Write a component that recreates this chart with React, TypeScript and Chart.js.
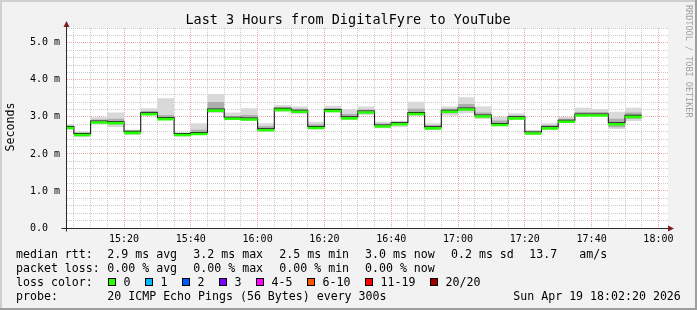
import { useEffect, useRef } from "react";
import { Chart, registerables } from "chart.js";

Chart.register(...registerables);

const MONO = '"DejaVu Sans Mono", monospace';

const chartTitle = "Last 3 Hours from DigitalFyre to YouTube";
const yAxisTitle = "Seconds";
const watermark = "RRDTOOL / TOBI OETIKER";

// time window of the graph
const axisStart = "15:02:56";
const axisEnd = "18:02:52";

// 5-minute RRD steps (start of each step), data ends at dataEnd
const segmentStarts = [
  "15:02:56", "15:05", "15:10", "15:15", "15:20", "15:25", "15:30", "15:35", "15:40", "15:45", "15:50", "15:55",
  "16:00", "16:05", "16:10", "16:15", "16:20", "16:25", "16:30", "16:35", "16:40", "16:45", "16:50", "16:55",
  "17:00", "17:05", "17:10", "17:15", "17:20", "17:25", "17:30", "17:35", "17:40", "17:45", "17:50",
];
const dataEnd = "17:55";

// median round-trip time, ms
const medianMs = [
  2.74, 2.55, 2.89, 2.87, 2.61, 3.11, 2.98, 2.55, 2.58, 3.21, 2.99, 2.97,
  2.68, 3.23, 3.18, 2.74, 3.20, 3.00, 3.16, 2.78, 2.84, 3.12, 2.73, 3.18,
  3.24, 3.05, 2.82, 3.00, 2.59, 2.73, 2.91, 3.08, 3.08, 2.84, 3.04,
];
// smoke: full spread of the pings, ms
const smokeLowMs = [
  2.65, 2.46, 2.80, 2.73, 2.51, 3.05, 2.94, 2.47, 2.51, 3.10, 2.92, 2.89,
  2.60, 3.14, 3.07, 2.69, 3.12, 2.94, 3.05, 2.69, 2.73, 3.03, 2.65, 3.03,
  3.10, 2.94, 2.76, 2.92, 2.51, 2.67, 2.85, 3.00, 3.00, 2.67, 2.89,
];
const smokeHighMs = [
  2.80, 2.60, 2.99, 3.12, 2.65, 3.23, 3.50, 2.58, 2.83, 3.62, 3.12, 3.23,
  2.83, 3.32, 3.28, 2.87, 3.30, 3.21, 3.28, 2.87, 2.89, 3.41, 2.83, 3.28,
  3.53, 3.28, 3.00, 3.10, 2.65, 2.83, 3.00, 3.25, 3.21, 3.14, 3.25,
];
// smoke: denser core around the median, ms
const coreLowMs = [
  2.70, 2.50, 2.84, 2.80, 2.55, 3.08, 2.96, 2.50, 2.54, 3.15, 2.95, 2.93,
  2.64, 3.18, 3.12, 2.71, 3.16, 2.96, 3.10, 2.73, 2.78, 3.07, 2.68, 3.10,
  3.18, 2.99, 2.78, 2.96, 2.55, 2.70, 2.88, 3.03, 3.03, 2.72, 2.95,
];
const coreHighMs = [
  2.77, 2.58, 2.93, 2.95, 2.63, 3.16, 3.05, 2.57, 2.65, 3.40, 3.02, 3.05,
  2.75, 3.26, 3.22, 2.80, 3.24, 3.08, 3.20, 2.82, 2.87, 3.22, 2.78, 3.22,
  3.35, 3.12, 2.90, 3.04, 2.62, 2.78, 2.95, 3.13, 3.13, 2.95, 3.12,
];

const xTickLabels = ["15:20", "15:40", "16:00", "16:20", "16:40", "17:00", "17:20", "17:40", "18:00"];
const yTickLabels = ["0.0  ", "1.0 m", "2.0 m", "3.0 m", "4.0 m", "5.0 m"];
const yMax = 5.4;

const lossLabels = ["0", "1", "2", "3", "4-5", "6-10", "11-19", "20/20"];
const lossColors = ["#26ff00", "#00b8ff", "#0059ff", "#7e00ff", "#ff00ff", "#ff5500", "#ff0000", "#a10000"];

const legendRow1 = ["median rtt:", "2.9 ms avg", "3.2 ms max", "2.5 ms min", "3.0 ms now", "0.2 ms sd", "13.7", "am/s"];
const legendRow2 = ["packet loss:", "0.00 % avg", "0.00 % max", "0.00 % min", "0.00 % now"];
const legendRow3 = ["loss color:"];
const legendRow4 = ["probe:", "20 ICMP Echo Pings (56 Bytes) every 300s", "Sun Apr 19 18:02:20 2026"];

// layout (pixels)
const row1X = [16, 107.3, 193.3, 279.3, 365, 451, 529.3, 579.3];
const row2X = [16, 107.3, 193.3, 279.3, 365];
const row4X = [16, 107.3, 513.3];
const lossBoxX = [108.5, 145.5, 182.5, 219.5, 256.5, 307.5, 365.5, 430.5];
const rowBaselines = [257.5, 271.5, 285.5, 299.5];

function toMin(t: string): number {
  const [h, m, s = "0"] = t.split(":");
  return Number(h) * 60 + Number(m) + Number(s) / 60;
}

const xMin = toMin(axisStart);
const xMax = toMin(axisEnd);
const starts = segmentStarts.map(toMin);
const ends = starts.slice(1).concat([toMin(dataEnd)]);
const xMajor = xTickLabels.map(toMin);

function stepped(values: number[]) {
  return starts.map((x, i) => ({ x, y: values[i] })).concat([{ x: toMin(dataEnd), y: values[values.length - 1] }]);
}

function flatSegments(values: number[]) {
  const pts: { x: number; y: number | null }[] = [];
  starts.forEach((x, i) => {
    pts.push({ x, y: values[i] }, { x: ends[i], y: values[i] }, { x: ends[i], y: null });
  });
  return pts;
}

const rrdPlugin = {
  id: "rrdLook",
  beforeDraw(chart: any) {
    const { ctx, width, height, chartArea } = chart;
    ctx.save();
    ctx.fillStyle = "#f2f2f2";
    ctx.fillRect(0, 0, width, height);
    // shade frame
    ctx.fillStyle = "#cfcfcf";
    ctx.fillRect(0, 0, width, 2);
    ctx.fillRect(0, 0, 2, height);
    ctx.fillStyle = "#9e9e9e";
    ctx.fillRect(0, height - 2, width, 2);
    ctx.fillRect(width - 2, 0, 2, height);
    ctx.fillStyle = "#ffffff";
    ctx.fillRect(chartArea.left, chartArea.top, chartArea.right - chartArea.left, chartArea.bottom - chartArea.top);
    ctx.restore();
  },
  beforeDatasetDraw(chart: any, args: any) {
    if (args.index === 0) {
      chart.ctx.save();
      chart.ctx.translate(0, 1.5);
    }
  },
  afterDatasetDraw(chart: any, args: any) {
    if (args.index === 0) chart.ctx.restore();
  },
  afterDatasetsDraw(chart: any) {
    const { ctx, chartArea } = chart;
    const x0 = Math.round(chartArea.left) - 0.5;
    const y0 = Math.round(chartArea.bottom) + 0.5;
    ctx.save();
    ctx.strokeStyle = "#2a2a2a";
    ctx.lineWidth = 1;
    ctx.beginPath();
    ctx.moveTo(x0, y0 + 3);
    ctx.lineTo(x0, chartArea.top - 2);
    ctx.moveTo(x0 - 5, y0);
    ctx.lineTo(chartArea.right + 2, y0);
    ctx.stroke();
    ctx.fillStyle = "#801f1f";
    ctx.beginPath();
    ctx.moveTo(x0, chartArea.top - 7);
    ctx.lineTo(x0 - 3, chartArea.top - 1);
    ctx.lineTo(x0 + 3, chartArea.top - 1);
    ctx.closePath();
    ctx.fill();
    ctx.beginPath();
    ctx.moveTo(chartArea.right + 6, y0);
    ctx.lineTo(chartArea.right, y0 - 3);
    ctx.lineTo(chartArea.right, y0 + 3);
    ctx.closePath();
    ctx.fill();
    ctx.restore();
  },
  afterDraw(chart: any) {
    const { ctx } = chart;
    ctx.save();
    ctx.fillStyle = "#000000";
    ctx.textBaseline = "alphabetic";
    ctx.textAlign = "center";
    ctx.font = `13.5px ${MONO}`;
    ctx.fillText(chartTitle, 348, 24);

    // y axis title
    ctx.save();
    ctx.translate(11, 127);
    ctx.rotate(-Math.PI / 2);
    ctx.font = `11.6px ${MONO}`;
    ctx.textBaseline = "middle";
    ctx.fillText(yAxisTitle, 0, 0);
    ctx.restore();

    // watermark
    ctx.save();
    ctx.translate(688, 5);
    ctx.rotate(Math.PI / 2);
    ctx.font = `8.5px ${MONO}`;
    ctx.fillStyle = "#a0a0a0";
    ctx.textAlign = "left";
    ctx.textBaseline = "middle";
    ctx.fillText(watermark, 0, 0);
    ctx.restore();

    // legend
    ctx.font = `11.6px ${MONO}`;
    ctx.textAlign = "left";
    ctx.fillStyle = "#000000";
    legendRow1.forEach((t, i) => ctx.fillText(t, row1X[i], rowBaselines[0]));
    legendRow2.forEach((t, i) => ctx.fillText(t, row2X[i], rowBaselines[1]));
    ctx.fillText(legendRow3[0], 16, rowBaselines[2]);
    lossLabels.forEach((lbl, i) => {
      const bx = lossBoxX[i];
      ctx.fillStyle = lossColors[i];
      ctx.fillRect(bx, 278.5, 7, 7);
      ctx.strokeStyle = "#000000";
      ctx.lineWidth = 1;
      ctx.strokeRect(bx, 278.5, 7, 7);
      ctx.fillStyle = "#000000";
      ctx.fillText(lbl, bx + 15, rowBaselines[2]);
    });
    legendRow4.forEach((t, i) => ctx.fillText(t, row4X[i], rowBaselines[3]));
    ctx.restore();
  },
};

export default function App() {
  const canvasRef = useRef<HTMLCanvasElement | null>(null);

  useEffect(() => {
    document.body.style.margin = "0";
    const canvas = canvasRef.current;
    if (!canvas) return;

    const xGrid: number[] = [];
    for (let t = toMin("15:05"); t <= xMax; t += 5) xGrid.push(t);
    const yGrid: number[] = [];
    for (let i = 0; i <= Math.round(yMax * 5); i++) yGrid.push(Math.round(i * 2) / 10);

    const isXMajor = (v: number) => xMajor.some((m) => Math.abs(m - v) < 1e-6);
    const isYMajor = (v: number) => Math.abs(v - Math.round(v)) < 1e-6;

    const base = { pointRadius: 0, tension: 0, spanGaps: false };

    const chart = new Chart(canvas, {
      type: "line",
      data: {
        datasets: [
          { ...base, label: "median", data: flatSegments(medianMs), borderColor: "#26ff00", borderWidth: 2.6, fill: false },
          { ...base, label: "median line", data: stepped(medianMs), stepped: true, borderColor: "#1a1a1a", borderWidth: 1.1, fill: false },
          { ...base, label: "core low", data: stepped(coreLowMs), stepped: true, borderWidth: 0, borderColor: "rgba(0,0,0,0)", fill: false },
          { ...base, label: "core high", data: stepped(coreHighMs), stepped: true, borderWidth: 0, borderColor: "rgba(0,0,0,0)", fill: "-1", backgroundColor: "#aeaeae" },
          { ...base, label: "smoke low", data: stepped(smokeLowMs), stepped: true, borderWidth: 0, borderColor: "rgba(0,0,0,0)", fill: false },
          { ...base, label: "smoke high", data: stepped(smokeHighMs), stepped: true, borderWidth: 0, borderColor: "rgba(0,0,0,0)", fill: "-1", backgroundColor: "#d9d9d9" },
        ],
      },
      options: {
        animation: false,
        responsive: false,
        events: [],
        layout: { padding: { left: 0, right: 29, top: 28, bottom: 0 } },
        plugins: { legend: { display: false }, tooltip: { enabled: false }, title: { display: false } },
        scales: {
          x: {
            type: "linear",
            min: xMin,
            max: xMax,
            afterBuildTicks: (s: any) => {
              s.ticks = xGrid.map((value) => ({ value }));
            },
            afterFit: (s: any) => {
              s.height = 82;
            },
            ticks: {
              autoSkip: false,
              maxRotation: 0,
              padding: 5,
              color: "#000000",
              font: { family: MONO, size: 10 },
              callback: (v: any) => {
                const idx = xMajor.findIndex((m) => Math.abs(m - Number(v)) < 1e-6);
                return idx >= 0 ? xTickLabels[idx] : "";
              },
            },
            grid: {
              drawTicks: false,
              lineWidth: 1,
              color: (c: any) => (isXMajor(c.tick?.value) ? "rgba(222,79,79,0.5)" : "rgba(143,143,143,0.45)"),
            },
            border: { display: false, dash: [1, 1] },
          },
          y: {
            type: "linear",
            min: 0,
            max: yMax,
            afterBuildTicks: (s: any) => {
              s.ticks = yGrid.map((value) => ({ value }));
            },
            afterFit: (s: any) => {
              s.width = 67;
            },
            ticks: {
              autoSkip: false,
              padding: 7,
              color: "#000000",
              font: { family: MONO, size: 10 },
              callback: (v: any) => (isYMajor(Number(v)) ? yTickLabels[Math.round(Number(v))] ?? "" : ""),
            },
            grid: {
              drawTicks: false,
              lineWidth: 1,
              color: (c: any) => (isYMajor(c.tick?.value) ? "rgba(222,79,79,0.5)" : "rgba(143,143,143,0.45)"),
            },
            border: { display: false, dash: [1, 1] },
          },
        },
      } as any,
      plugins: [rrdPlugin],
    });

    return () => chart.destroy();
  }, []);

  return (
    <div style={{ width: 697, height: 310 }}>
      <canvas ref={canvasRef} width={697} height={310} style={{ display: "block", width: 697, height: 310 }} />
    </div>
  );
}
